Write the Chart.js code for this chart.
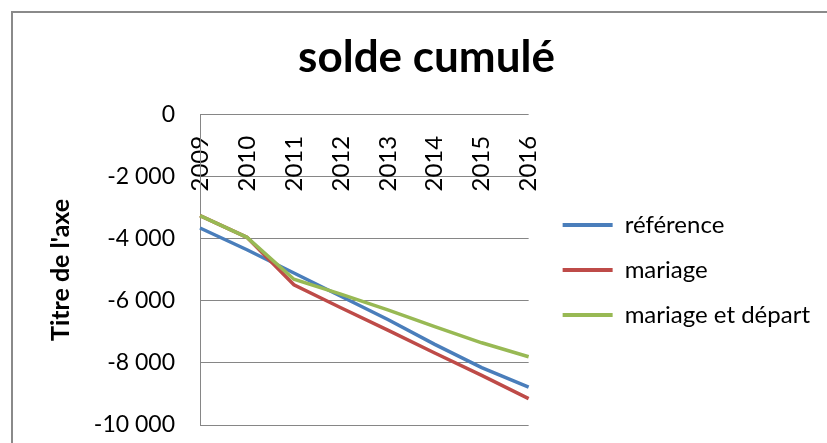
<!DOCTYPE html>
<html lang="fr">
<head>
<meta charset="utf-8">
<title>solde cumulé</title>
<script src="https://cdn.jsdelivr.net/npm/chart.js@4.4.1/dist/chart.umd.min.js"></script>
<style>
    html, body { margin: 0; padding: 0; background: #fff; }
    #frame {
        position: absolute;
        left: 11px;
        top: 11px;
        width: 830px;
        height: 450px;
        border-left: 2px solid #8a8a8a;
        border-top: 2px solid #8a8a8a;
    }
    #wrap { position: absolute; left: 0; top: 0; width: 827px; height: 443px; }
</style>
</head>
<body>
<div id="frame"></div>
<div id="wrap"><canvas id="chart" width="827" height="443"></canvas></div>
<script>
// Years on the category axis
const years = ['2009', '2010', '2011', '2012', '2013', '2014', '2015', '2016'];

// Cumulated balance for each scenario
const reference = [-3650, -4350, -5100, -5850, -6600, -7400, -8150, -8780];
const mariage = [-3250, -3950, -5480, -6220, -6940, -7680, -8400, -9150];
const mariageDepart = [-3250, -3950, -5300, -5780, -6290, -6830, -7350, -7800];

const seriesNames = ['référence', 'mariage', 'mariage et départ'];
const seriesColors = ['#4A7EBB', '#BE4B48', '#98B954'];

const yTicks = [0, -2000, -4000, -6000, -8000, -10000];

const fontFamily = 'Lato, "Open Sans", sans-serif';

// "-10000" -> "-10 000"
function formatThousands(v) {
    return String(v).replace(/\B(?=(\d{3})+(?!\d))/g, ' ');
}

const seriesData = [reference, mariage, mariageDepart];

const datasets = seriesData.map((values, i) => ({
    label: seriesNames[i],
    data: values,
    borderColor: seriesColors[i],
    backgroundColor: seriesColors[i],
    borderWidth: 3.5,
    pointRadius: 0,
    tension: 0,
    order: 2 - i // last series drawn on top
}));

const ctx = document.getElementById('chart').getContext('2d');
new Chart(ctx, {
    type: 'line',
    data: { labels: years, datasets: datasets },
    options: {
        responsive: false,
        animation: false,
        layout: { padding: { left: 33, top: 30, right: 7, bottom: 18 } },
        plugins: {
            title: {
                display: true,
                text: 'solde cumulé',
                color: '#000',
                font: { family: fontFamily, size: 44, weight: 'bold' },
                padding: { top: 1, bottom: 31 }
            },
            legend: {
                position: 'right',
                fullSize: false,
                maxWidth: 320,
                labels: {
                    color: '#000',
                    font: { family: fontFamily, size: 24 },
                    boxWidth: 50,
                    boxHeight: 4,
                    padding: 21,
                    generateLabels: chart => chart.data.datasets.map((ds, i) => ({
                        text: ds.label,
                        fillStyle: ds.borderColor,
                        strokeStyle: ds.borderColor,
                        lineWidth: 0,
                        hidden: false,
                        datasetIndex: i
                    }))
                }
            },
            tooltip: { enabled: false }
        },
        scales: {
            x: {
                position: { y: 0 },
                offset: false,
                grid: { display: false },
                border: { display: false },
                ticks: {
                    color: '#000',
                    font: { family: fontFamily, size: 24 },
                    minRotation: 90,
                    maxRotation: 90,
                    padding: 13
                }
            },
            y: {
                min: -10000,
                max: 0,
                afterBuildTicks: scale => {
                    scale.ticks = yTicks.map(v => ({ value: v }));
                },
                afterFit: scale => {
                    scale.width = 167;
                },
                // invisible tick marks keep the labels away from the axis line
                grid: { color: '#868686', lineWidth: 1, drawTicks: true, tickLength: 25, tickColor: 'rgba(0,0,0,0)' },
                border: { display: true, color: '#868686', width: 1 },
                ticks: {
                    color: '#000',
                    font: { family: fontFamily, size: 23 },
                    padding: 0,
                    callback: v => formatThousands(v)
                },
                title: {
                    display: true,
                    text: "Titre de l'axe",
                    color: '#000',
                    font: { family: fontFamily, size: 25, weight: 'bold' },
                    padding: { top: 13, bottom: 0 }
                }
            },
            // empty space between the plot and the legend
            gap: {
                type: 'linear',
                position: 'right',
                display: true,
                grid: { display: false },
                border: { display: false },
                ticks: { display: false },
                afterFit: scale => {
                    scale.width = 13;
                }
            }
        }
    }
});
</script>
</body>
</html>
